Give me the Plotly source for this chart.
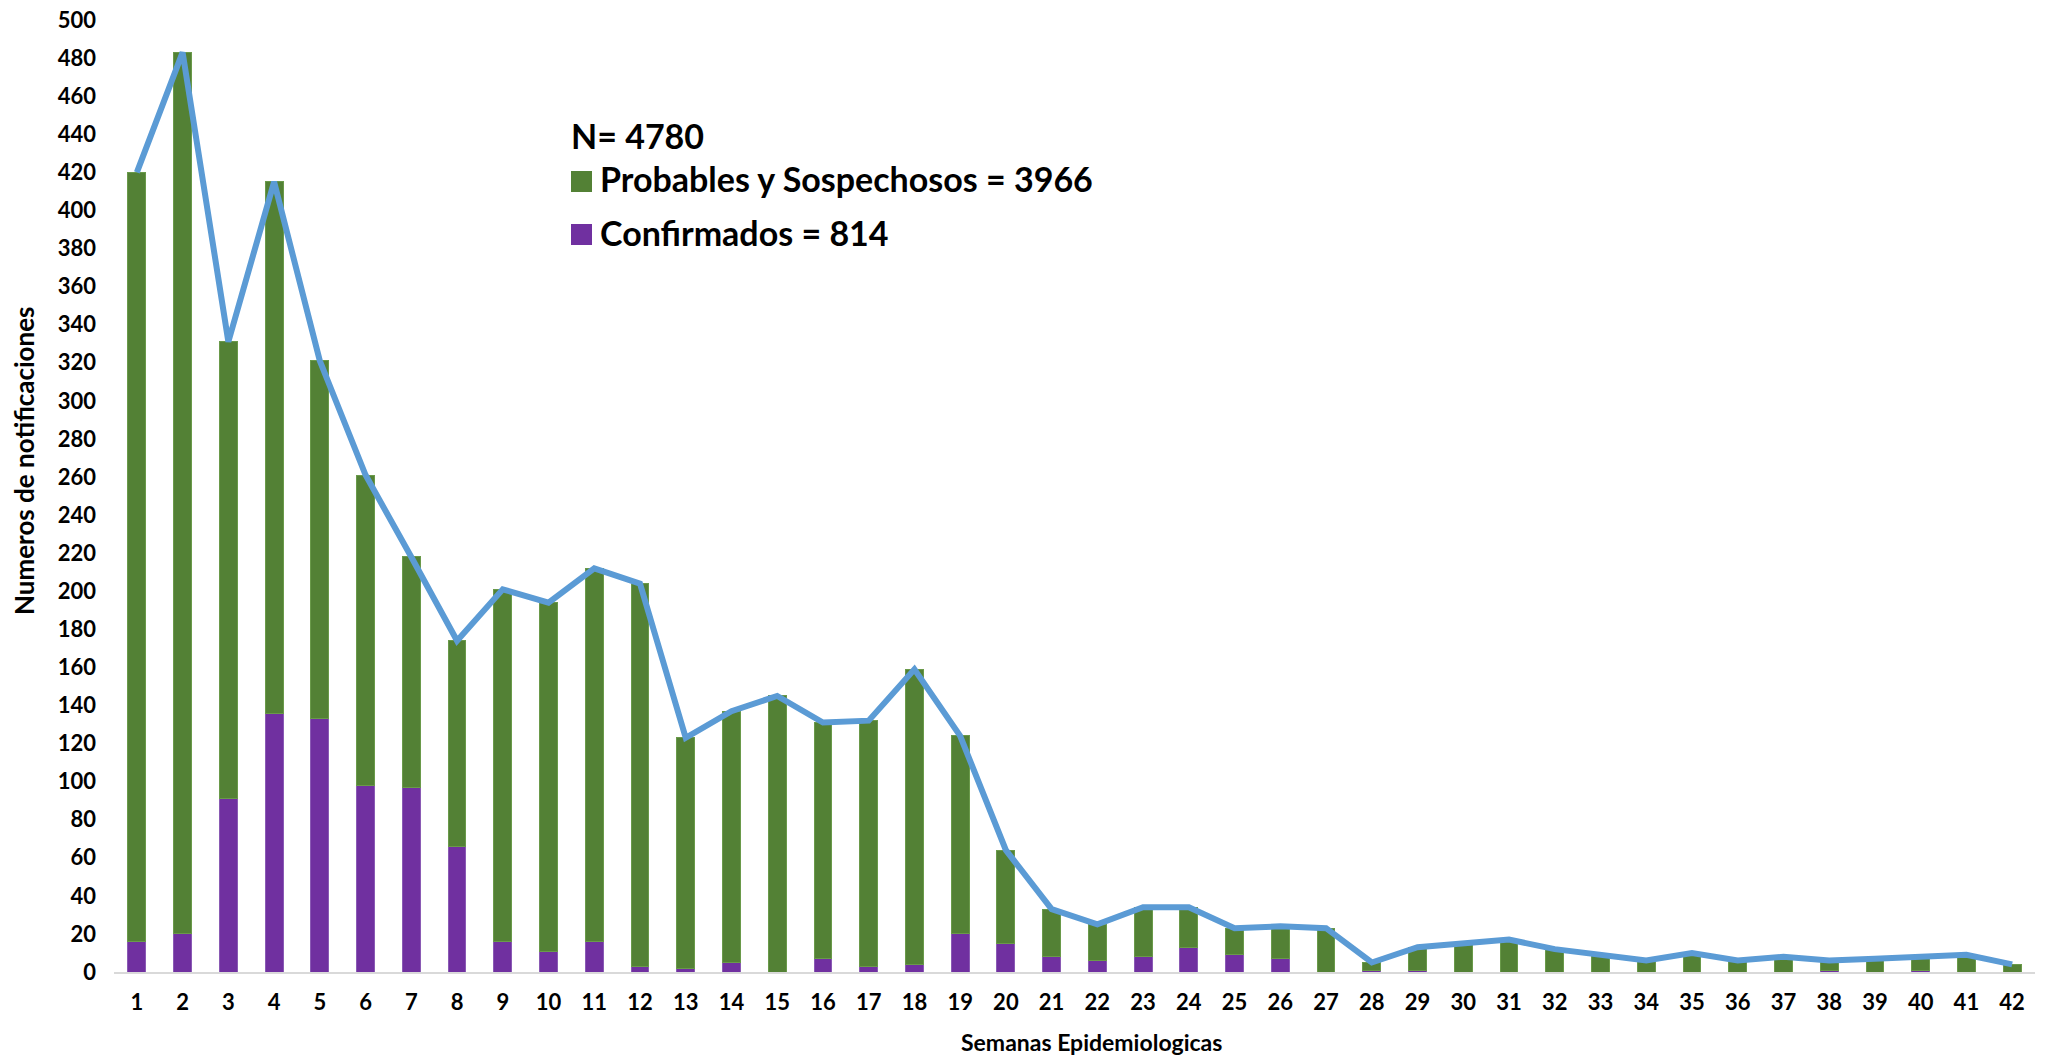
import plotly.graph_objects as go

semanas = list(range(1, 43))
confirmados = [16, 20, 91, 136, 133, 98, 97, 66, 16, 11, 16, 3, 2, 5, 0, 7, 3, 4, 20, 15, 8,
               6, 8, 13, 9, 7, 0, 1, 1, 0, 0, 0, 0, 0, 0, 0, 0, 1, 0, 1, 0, 0]
probables = [404, 463, 240, 279, 188, 163, 121, 108, 185, 183, 196, 201, 121, 132, 145, 124,
             129, 155, 104, 49, 25, 19, 26, 21, 14, 17, 23, 4, 12, 15, 17, 12, 9, 6, 10, 6,
             8, 5, 7, 7, 9, 4]
totales = [c + p for c, p in zip(confirmados, probables)]
y_ticks = list(range(0, 501, 20))

GREEN = "#538135"
PURPLE = "#7030A0"
BLUE = "#5B9BD5"
FONT = "Lato"

W, H = 2046, 1059
L, R, T, B = 114, 11, 20, 87
PW, PH = W - L - R, H - T - B


def px(x):
    return (x - L) / PW


def py(y):
    return (H - B - y) / PH


fig = go.Figure()
fig.add_trace(go.Bar(x=semanas, y=confirmados, name="Confirmados = 814",
                     marker=dict(color=PURPLE, line=dict(width=1, color="#8A5AB4"))))
fig.add_trace(go.Bar(x=semanas, y=probables, name="Probables y Sospechosos = 3966",
                     marker=dict(color=GREEN, line=dict(width=1, color="#6A9A4A"))))
fig.add_trace(go.Scatter(x=semanas, y=totales, mode="lines", name="Total",
                         line=dict(color=BLUE, width=6)))

tick = dict(family=FONT, size=22, color="black", weight="bold")

fig.update_layout(
    width=W, height=H,
    margin=dict(l=L, r=R, t=T, b=B, autoexpand=False),
    barmode="stack", bargap=0.61,
    plot_bgcolor="white", paper_bgcolor="white",
    showlegend=False,
    font=tick,
    xaxis=dict(range=[0.5, 42.5], tickmode="array", tickvals=semanas,
               ticktext=[str(s) for s in semanas], showgrid=False, zeroline=False,
               showline=True, linecolor="#D9D9D9", linewidth=2, ticks="",
               ticklabelstandoff=10, tickfont=tick, automargin=False),
    yaxis=dict(range=[0, 500], tickmode="array", tickvals=y_ticks, showgrid=False,
               zeroline=False, showline=False, ticks="", tickfont=tick,
               ticklabelstandoff=17, automargin=False),
)

# axis titles
fig.add_annotation(xref="paper", yref="paper", x=px(1091), y=py(1042),
                   text="Semanas Epidemiologicas", showarrow=False,
                   xanchor="center", yanchor="middle",
                   font=dict(family=FONT, size=23, color="black", weight="bold"))
fig.add_annotation(xref="paper", yref="paper", x=px(24), y=py(461),
                   text="Numeros de notificaciones", showarrow=False, textangle=-90,
                   xanchor="center", yanchor="middle",
                   font=dict(family=FONT, size=26, color="black", weight="bold"))

# custom legend block
big = dict(family=FONT, size=34, color="black", weight="bold")
fig.add_annotation(xref="paper", yref="paper", x=px(569), y=py(135), text="N= 4780",
                   showarrow=False, xanchor="left", yanchor="middle", font=big)
fig.add_annotation(xref="paper", yref="paper", x=px(598), y=py(179),
                   text="Probables y Sospechosos = 3966",
                   showarrow=False, xanchor="left", yanchor="middle", font=big)
fig.add_annotation(xref="paper", yref="paper", x=px(598), y=py(233),
                   text="Confirmados = 814",
                   showarrow=False, xanchor="left", yanchor="middle", font=big)
fig.add_shape(type="rect", xref="paper", yref="paper", x0=px(571), x1=px(592),
              y0=py(192), y1=py(171), fillcolor=GREEN, line=dict(width=0))
fig.add_shape(type="rect", xref="paper", yref="paper", x0=px(571), x1=px(592),
              y0=py(245), y1=py(224), fillcolor=PURPLE, line=dict(width=0))

fig.write_html("out.html", config={"displayModeBar": False},
               post_script="document.body.style.margin='0';document.body.style.overflow='hidden';")
